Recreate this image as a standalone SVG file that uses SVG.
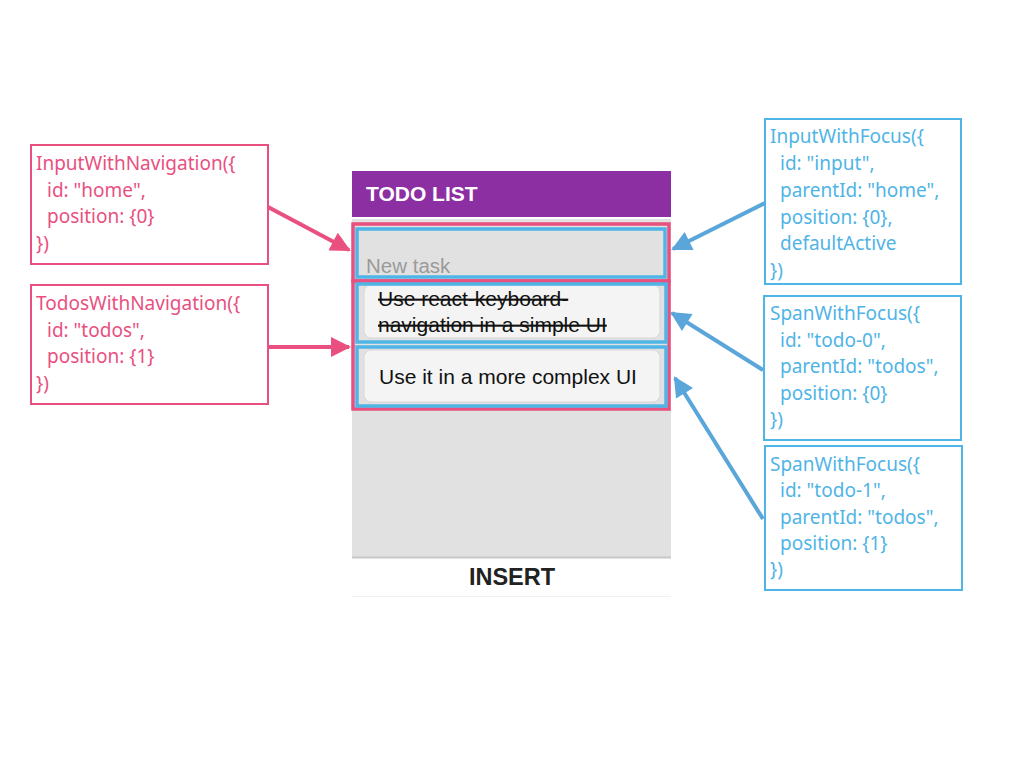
<svg xmlns="http://www.w3.org/2000/svg" width="1024" height="768" viewBox="0 0 1024 768">
<style>
.pk{fill:none;stroke:#E9507F;stroke-width:2}
.bl{fill:none;stroke:#4FB4E6;stroke-width:2}
.hp{fill:none;stroke:#E9507F;stroke-width:3.5}
.hb{fill:none;stroke:#4FB4E6;stroke-width:3.5}
.pt{font-family:"Noto Sans",Lato,sans-serif;font-size:19px;fill:#E9507F}
.bt{font-family:"Noto Sans",Lato,sans-serif;font-size:19px;fill:#4FB4E6}
.ui{font-family:"Liberation Sans",Arial,sans-serif}
.pa{stroke:#E9507F;stroke-width:4;fill:none}
.ba{stroke:#5AA5D9;stroke-width:4;fill:none}
</style>
<defs>
<marker id="mp" viewBox="0 0 10 10" refX="9" refY="5" markerWidth="5.5" markerHeight="5" markerUnits="strokeWidth" orient="auto"><path d="M0,0 L10,5 L0,10 z" fill="#E9507F"/></marker>
<marker id="mb" viewBox="0 0 10 10" refX="9" refY="5" markerWidth="5.5" markerHeight="5" markerUnits="strokeWidth" orient="auto"><path d="M0,0 L10,5 L0,10 z" fill="#5AA5D9"/></marker>
</defs>
<rect width="1024" height="768" fill="#fff"/>
<g id="phone">
<rect x="352" y="171" width="319" height="426" fill="#fff"/>
<rect x="352" y="171" width="319" height="46" fill="#8C2FA3"/>
<rect x="352" y="219" width="319" height="338" fill="#E1E1E1"/>
<line x1="352" y1="557.5" x2="671" y2="557.5" stroke="#C8C8C8" stroke-width="2"/>
<line x1="352" y1="596.5" x2="671" y2="596.5" stroke="#F0F0F0" stroke-width="1"/>
<text x="366" y="201" class="ui" font-size="21" font-weight="bold" fill="#fff">TODO LIST</text>
<text x="366" y="273" class="ui" font-size="20.5" fill="#9A9A9A">New task</text>
<rect x="364" y="285" width="296" height="53" rx="7" fill="#F4F4F4" stroke="#D6D6D6" stroke-width="1"/>
<rect x="364" y="350" width="296" height="52" rx="7" fill="#F4F4F4" stroke="#D6D6D6" stroke-width="1"/>
<text class="ui" font-size="21" fill="#111" text-decoration="line-through"><tspan x="378" y="306">Use react-keyboard-</tspan><tspan x="378" y="332">navigation in a simple UI</tspan></text>
<text x="379" y="384" class="ui" font-size="21" fill="#111">Use it in a more complex UI</text>
<text x="512" y="585" class="ui" font-size="23.5" font-weight="bold" fill="#222" text-anchor="middle">INSERT</text>
</g>
<g id="highlights">
<rect x="353" y="224" width="316" height="57" class="hp"/>
<rect x="353" y="281" width="316" height="128" class="hp"/>
<rect x="357" y="229" width="308" height="48" class="hb"/>
<rect x="357" y="284" width="309" height="58" class="hb"/>
<rect x="357" y="347" width="309" height="59" class="hb"/>
</g>
<g id="input-nav">
<rect x="31" y="145" width="237" height="119" class="pk"/>
<text class="pt"><tspan x="36" y="170">InputWithNavigation({</tspan><tspan x="47" y="197">id: "home",</tspan><tspan x="47" y="223">position: {0}</tspan><tspan x="36" y="250">})</tspan></text>
</g>
<g id="todos-nav">
<rect x="31" y="285" width="237" height="119" class="pk"/>
<text class="pt"><tspan x="36" y="310">TodosWithNavigation({</tspan><tspan x="47" y="337">id: "todos",</tspan><tspan x="47" y="363">position: {1}</tspan><tspan x="36" y="390">})</tspan></text>
</g>
<g id="input-focus">
<rect x="765" y="119" width="196" height="165" class="bl"/>
<text class="bt"><tspan x="770" y="143">InputWithFocus({</tspan><tspan x="780" y="170">id: "input",</tspan><tspan x="780" y="197">parentId: "home",</tspan><tspan x="780" y="224">position: {0},</tspan><tspan x="780" y="250">defaultActive</tspan><tspan x="770" y="277">})</tspan></text>
</g>
<g id="span-focus-0">
<rect x="764" y="296" width="197" height="144" class="bl"/>
<text class="bt"><tspan x="770" y="320">SpanWithFocus({</tspan><tspan x="780" y="347">id: "todo-0",</tspan><tspan x="780" y="373">parentId: "todos",</tspan><tspan x="780" y="400">position: {0}</tspan><tspan x="770" y="426">})</tspan></text>
</g>
<g id="span-focus-1">
<rect x="765" y="446" width="197" height="144" class="bl"/>
<text class="bt"><tspan x="770" y="471">SpanWithFocus({</tspan><tspan x="780" y="497">id: "todo-1",</tspan><tspan x="780" y="524">parentId: "todos",</tspan><tspan x="780" y="550">position: {1}</tspan><tspan x="770" y="576">})</tspan></text>
</g>
<g id="connectors">
<line x1="268" y1="207" x2="349" y2="250" class="pa" marker-end="url(#mp)"/>
<line x1="268" y1="347" x2="349" y2="347" class="pa" marker-end="url(#mp)"/>
<line x1="765" y1="203" x2="673" y2="249" class="ba" marker-end="url(#mb)"/>
<line x1="763" y1="370" x2="672" y2="313" class="ba" marker-end="url(#mb)"/>
<line x1="763" y1="519" x2="675" y2="378" class="ba" marker-end="url(#mb)"/>
</g>
</svg>
